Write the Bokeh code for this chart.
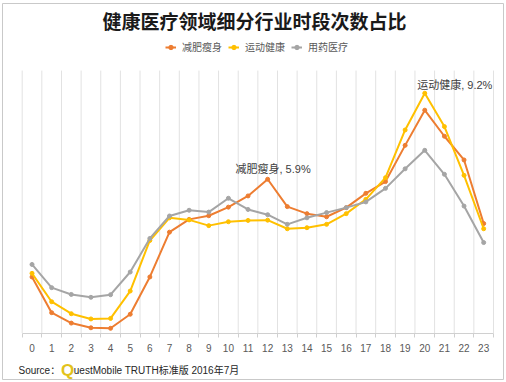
from bokeh.plotting import figure
from bokeh.models import Range1d, FixedTicker, Label, Legend, LegendItem
from bokeh.embed import file_html
from bokeh.resources import INLINE

# ---- data -------------------------------------------------------------
hours = list(range(24))
hour_labels = [str(h) for h in hours]
series_names = ["减肥瘦身", "运动健康", "用药医疗"]
weight_loss = [2.15, 0.78, 0.38, 0.20, 0.18, 0.72, 2.15, 3.87, 4.36, 4.50, 4.83, 5.26,
               5.90, 4.85, 4.58, 4.46, 4.81, 5.36, 5.81, 7.20, 8.55, 7.55, 6.64, 4.20]
fitness = [2.29, 1.20, 0.74, 0.54, 0.56, 1.61, 3.55, 4.42, 4.34, 4.12, 4.27, 4.32,
           4.33, 4.00, 4.04, 4.17, 4.58, 5.13, 5.96, 7.79, 9.20, 7.92, 6.05, 4.00]
medicine = [2.63, 1.74, 1.48, 1.37, 1.47, 2.34, 3.63, 4.49, 4.71, 4.64, 5.17, 4.74,
            4.54, 4.17, 4.42, 4.62, 4.81, 5.03, 5.55, 6.30, 7.01, 6.09, 4.87, 3.47]
title_text = "健康医疗领域细分行业时段次数占比"
source_prefix = "Source："
source_q = "Q"
source_rest = "uestMobile TRUTH标准版 2016年7月"

# ---- layout constants (pixels) ----------------------------------------
W, H = 504, 380
PX_L, PX_R = 21.7, 493.0          # plot-area left/right edges
Y0, PPU = 332.5, 26.06            # pixel row of value 0, pixels per unit
Y_TOP = 10.07                     # top of plot area (value units)
UPX = (PX_R - PX_L) / 24.0


def hx(px):
    return -0.5 + (px - PX_L) / UPX


def vy(py):
    return (Y0 - py) / PPU


colors = ["#ED7D31", "#FFC000", "#A5A5A5"]
CJK = "Noto Sans CJK SC"
MIX = "Liberation Sans, Noto Sans CJK SC"

p = figure(width=W, height=H, output_backend="svg", toolbar_location=None,
           x_range=Range1d(hx(0), hx(W)), y_range=Range1d(vy(H), vy(0)),
           y_axis_location=None,
           min_border_left=0, min_border_right=0, min_border_top=0, min_border_bottom=0,
           outline_line_color=None, background_fill_color="white",
           border_fill_color="white")

# outer border
p.quad(left=[hx(2)], right=[hx(503)], top=[vy(3)], bottom=[vy(379)],
       fill_color=None, line_color="#c9c9c9", line_width=1)

p.ygrid.grid_line_color = None
p.xgrid.grid_line_color = None

bounds = [h - 0.5 for h in hours] + [hours[-1] + 0.5]
p.segment(x0=bounds, y0=[0] * len(bounds), x1=bounds, y1=[Y_TOP] * len(bounds),
          line_color="#e2e2e2", line_width=1)

xt = FixedTicker(ticks=hours, minor_ticks=bounds)
ax = p.xaxis[0]
ax.ticker = xt
ax.fixed_location = 0
ax.bounds = (bounds[0], bounds[-1])
ax.major_label_overrides = {h: lab for h, lab in zip(hours, hour_labels)}
ax.axis_line_color = "#d0d0d0"
ax.major_tick_line_color = None
ax.major_tick_out = 0
ax.major_tick_in = 0
ax.minor_tick_line_color = "#d0d0d0"
ax.minor_tick_out = 4
ax.minor_tick_in = 0
ax.major_label_standoff = 7
ax.major_label_text_font = "Liberation Sans"
ax.major_label_text_font_size = "10px"
ax.major_label_text_color = "#595959"

items = []
for name, vals, c in zip(series_names, [weight_loss, fitness, medicine], colors):
    l = p.line(hours, vals, line_color=c, line_width=2)
    s = p.scatter(hours, vals, marker="circle", size=4, fill_color=c, line_color=c)
    items.append(LegendItem(label=name, renderers=[l, s]))

legend = Legend(items=items, orientation="horizontal", location=(165, H - 54),
                margin=0, padding=0, spacing=6, glyph_width=11, glyph_height=12,
                label_height=12, label_standoff=6, label_text_font=CJK,
                label_text_font_size="10px", label_text_color="#595959",
                border_line_color=None, background_fill_alpha=0)
p.add_layout(legend, "center")

p.add_layout(Label(x=hx(254), y=vy(19.5), text=title_text, text_font=CJK,
                   text_font_size="19px", text_font_style="bold", text_color="#1a1a1a",
                   text_align="center", text_baseline="middle"))
p.add_layout(Label(x=hx(235), y=vy(168), text=f"{series_names[0]}, {weight_loss[12]}%",
                   text_font=MIX, text_font_size="11px", text_color="#404040",
                   text_baseline="middle"))
p.add_layout(Label(x=hx(416.7), y=vy(84), text=f"{series_names[1]}, {fitness[20]}%",
                   text_font=MIX, text_font_size="11px", text_color="#404040",
                   text_baseline="middle"))
p.add_layout(Label(x=hx(18), y=vy(369.5), text=source_prefix, text_font=MIX,
                   text_font_size="10px", text_color="#262626", text_baseline="alphabetic"))
p.add_layout(Label(x=hx(60.5), y=vy(369.5), text=source_q, text_font="Liberation Sans",
                   text_font_size="17px", text_font_style="bold", text_color="#E2C21C",
                   text_baseline="alphabetic"))
p.add_layout(Label(x=hx(73.3), y=vy(369.5), text=source_rest, text_font=MIX,
                   text_font_size="10px", text_color="#262626", text_baseline="alphabetic"))

open("out.html", "w").write(file_html(p, INLINE))
